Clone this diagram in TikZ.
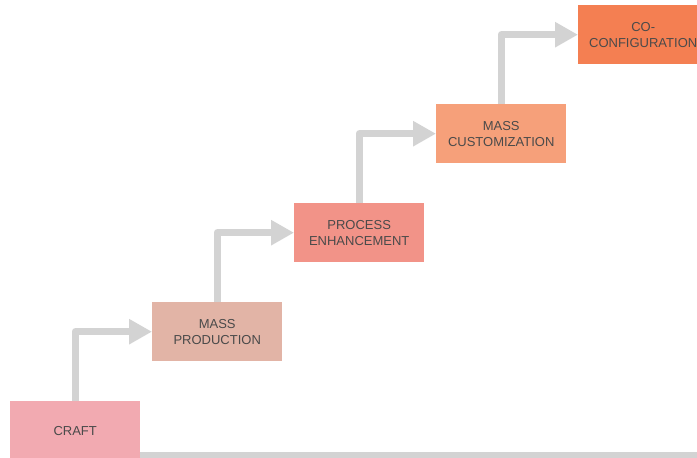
\documentclass[tikz,border=0pt]{standalone}
\usepackage{fontspec}
\setmainfont{Liberation Sans}
\usetikzlibrary{arrows.meta}
\definecolor{cCraft}{HTML}{F2AAB1}
\definecolor{cMass}{HTML}{E2B4A6}
\definecolor{cProc}{HTML}{F29388}
\definecolor{cCust}{HTML}{F6A07A}
\definecolor{cCo}{HTML}{F47F52}
\definecolor{cLine}{HTML}{D3D3D3}
\definecolor{cText}{HTML}{4A4A4A}
\tikzset{
  stagebox/.style={rectangle, anchor=north west, minimum width=130pt, minimum height=59pt,
    inner sep=0pt, align=center, text=cText, font=\fontsize{13}{16}\selectfont},
  riser/.style={draw=cLine, line width=7pt, line join=round,
    -{Triangle[length=23pt,width=24pt]}},
  baseline/.style={draw=cLine, line width=6pt}
}
\begin{document}
\begin{tikzpicture}[x=1pt,y=-1pt]
\useasboundingbox (0,0) rectangle (697,458);
\clip (0,0) rectangle (697,458);
\fill[white] (0,0) rectangle (697,458);
\node[stagebox, fill=cCraft] (craft) at (10,401) {CRAFT};
\node[stagebox, fill=cMass] (mass) at (152,302) {MASS\\PRODUCTION};
\node[stagebox, fill=cProc] (proc) at (294,203) {PROCESS\\ENHANCEMENT};
\node[stagebox, fill=cCust] (cust) at (436,104) {MASS\\CUSTOMIZATION};
\node[stagebox, fill=cCo] (coconf) at (578,5) {CO-\\CONFIGURATION};
\coordinate (lineend) at (705,455);
\draw[riser] (craft.north) |- (mass.west);
\draw[riser] (mass.north) |- (proc.west);
\draw[riser] (proc.north) |- (cust.west);
\draw[riser] (cust.north) |- (coconf.west);
\draw[baseline] (craft.south east |- lineend) -- (lineend);
\end{tikzpicture}
\end{document}
